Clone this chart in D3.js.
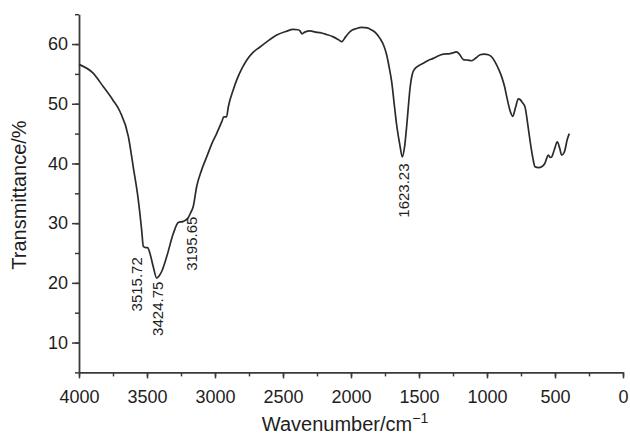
<!DOCTYPE html>
<html>
<head>
<meta charset="utf-8">
<script src="https://cdn.jsdelivr.net/npm/d3@7"></script>
<style>
  body { margin: 0; background: #fff; }
  svg { display: block; font-family: "Liberation Sans", Arial, sans-serif; }
</style>
</head>
<body>
<svg id="chart" width="630" height="436"></svg>
<script>
// FT-IR spectrum
const wavenumber = [4000, 3900, 3821, 3750, 3699, 3637, 3601, 3564, 3539, 3527, 3510, 3495, 3478, 3454, 3429, 3410, 3392, 3355, 3306, 3270, 3233, 3200, 3180, 3160, 3135, 3100, 3061, 3020, 2988, 2950, 2935, 2915, 2902, 2865, 2840, 2800, 2767, 2720, 2669, 2600, 2546, 2480, 2424, 2390, 2375, 2360, 2340, 2300, 2260, 2228, 2180, 2130, 2090, 2068, 2040, 2007, 1960, 1921, 1880, 1848, 1815, 1787, 1760, 1738, 1720, 1701, 1680, 1664, 1640, 1623, 1605, 1590, 1578, 1566, 1550, 1529, 1500, 1468, 1430, 1395, 1360, 1321, 1272, 1240, 1223, 1200, 1174, 1140, 1113, 1080, 1051, 1020, 990, 960, 941, 915, 892, 870, 855, 830, 811, 790, 770, 757, 740, 721, 700, 684, 665, 647, 620, 598, 575, 549, 535, 524, 505, 483, 465, 451, 430, 410, 395]
const transmittance = [56.6, 55.2, 52.85, 50.6, 48.7, 44.5, 39.4, 33.9, 28.8, 26.1, 25.9, 25.9, 24.9, 22.7, 20.8, 21.2, 21.9, 24.4, 28.3, 30.1, 30.3, 30.8, 31.7, 32.8, 36.1, 38.8, 41.1, 43.5, 45.0, 47.0, 47.8, 47.8, 49.5, 52.4, 54.0, 56.0, 57.3, 58.6, 59.5, 60.7, 61.5, 62.1, 62.45, 62.4, 62.2, 61.7, 62.0, 62.2, 62.0, 61.9, 61.6, 61.2, 60.7, 60.4, 61.2, 62.1, 62.6, 62.8, 62.7, 62.35, 61.8, 60.95, 59.8, 58.2, 56.2, 53.7, 49.5, 46.4, 43.0, 41.1, 43.0, 46.4, 49.6, 52.6, 54.9, 55.9, 56.4, 56.8, 57.3, 57.6, 58.0, 58.3, 58.4, 58.6, 58.7, 58.2, 57.4, 57.3, 57.2, 57.7, 58.2, 58.3, 58.2, 57.7, 57.0, 55.8, 54.5, 52.8, 51.2, 48.8, 47.9, 49.4, 50.8, 50.7, 50.2, 49.5, 46.5, 43.9, 41.2, 39.45, 39.3, 39.45, 40.0, 41.4, 41.0, 41.1, 42.3, 43.6, 42.5, 41.4, 42.0, 44.0, 45.0]

// peak labels: text, where each label sits (wavenumber of its baseline, value at its top)
const peakLabels = ['3515.72', '3424.75', '3195.65', '1623.23']
const labelW = [3539, 3380, 3135, 1571]
const labelTop = [24.3, 20.2, 31.1, 40.0]

const xTicks = [4000, 3500, 3000, 2500, 2000, 1500, 1000, 500, 0]
const yTicks = [10, 20, 30, 40, 50, 60]

const svg = d3.select('#chart')
const x = d3.scaleLinear().domain([4000, 0]).range([79, 623])
const y = d3.scaleLinear().domain([5, 65]).range([372.4, 14.2])

const axisColor = '#3a3a3a'
const textColor = '#1e1e1e'

// Bottom axis: minor ticks then major ticks with labels
svg.append('g')
  .attr('transform', `translate(0,${y(5)})`)
  .call(d3.axisBottom(x).tickValues(d3.range(4000, -1, -250)).tickSize(4).tickFormat(''))
  .call(g => g.select('.domain').remove())
  .selectAll('line').attr('stroke', axisColor).attr('stroke-width', 1.5)

let xAxis = svg.append('g')
  .attr('transform', `translate(0,${y(5)})`)
  .call(d3.axisBottom(x).tickValues(xTicks).tickSize(6).tickSizeOuter(0).tickPadding(12).tickFormat(d3.format('d')))
xAxis.select('.domain').attr('stroke', axisColor).attr('stroke-width', 1.8)
xAxis.selectAll('line').attr('stroke', axisColor).attr('stroke-width', 1.5)
xAxis.selectAll('text').attr('font-size', 18).attr('fill', textColor)

// Left axis
svg.append('g')
  .attr('transform', `translate(${x(4000)},0)`)
  .call(d3.axisLeft(y).tickValues(d3.range(5, 66, 5)).tickSize(4).tickFormat(''))
  .call(g => g.select('.domain').remove())
  .selectAll('line').attr('stroke', axisColor).attr('stroke-width', 1.5)

let yAxis = svg.append('g')
  .attr('transform', `translate(${x(4000)},0)`)
  .call(d3.axisLeft(y).tickValues(yTicks).tickSize(7).tickSizeOuter(0).tickPadding(4))
yAxis.select('.domain').attr('stroke', axisColor).attr('stroke-width', 1.8)
yAxis.selectAll('line').attr('stroke', axisColor).attr('stroke-width', 1.5)
yAxis.selectAll('text').attr('font-size', 18).attr('fill', textColor)

// Spectrum
const spectrum = wavenumber.map((w, i) => [w, transmittance[i]])
const line = d3.line()
  .x(d => x(d[0]))
  .y(d => y(d[1]))
  .curve(d3.curveMonotoneX)

svg.append('path')
  .datum(spectrum)
  .attr('d', line)
  .attr('fill', 'none')
  .attr('stroke', '#2b2b2b')
  .attr('stroke-width', 1.7)
  .attr('stroke-linejoin', 'round')

// Peak annotations (rotated, reading upward)
peakLabels.forEach((lbl, i) => {
  svg.append('text')
    .attr('transform', `translate(${x(labelW[i])},${y(labelTop[i])}) rotate(-90)`)
    .attr('text-anchor', 'end')
    .attr('font-size', 15)
    .attr('fill', textColor)
    .text(lbl)
})

// Axis titles
let xTitle = svg.append('text')
  .attr('x', 345)
  .attr('y', 431)
  .attr('text-anchor', 'middle')
  .attr('font-size', 20)
  .attr('fill', textColor)
xTitle.append('tspan').text('Wavenumber/cm')
xTitle.append('tspan').attr('dy', -8).attr('font-size', 14).text('\u22121')

svg.append('text')
  .attr('transform', 'translate(26,195) rotate(-90)')
  .attr('text-anchor', 'middle')
  .attr('font-size', 20)
  .attr('fill', textColor)
  .text('Transmittance/%')
</script>
</body>
</html>
